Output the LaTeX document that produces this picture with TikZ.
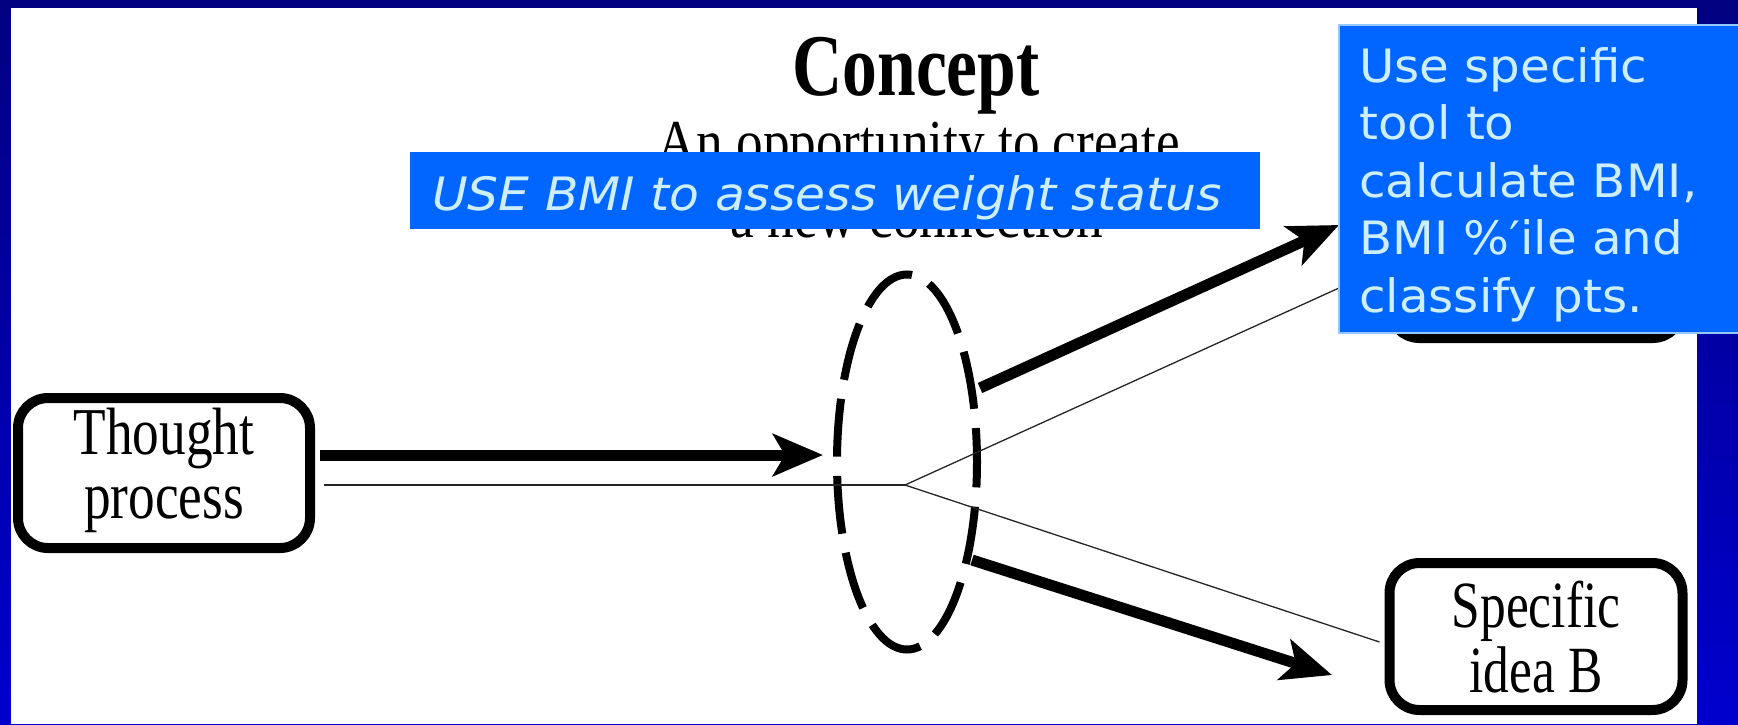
\documentclass[tikz,border=0pt]{standalone}
\usepackage{fontspec}
\setmainfont{Liberation Serif}
\newfontfamily\boxsans{DejaVu Sans}
\usetikzlibrary{arrows.meta,shapes.geometric,calc}
\definecolor{navytop}{RGB}{0,0,128}
\definecolor{navybot}{RGB}{0,0,206}
\definecolor{boxblue}{RGB}{0,102,255}
\definecolor{boxtext}{RGB}{204,238,255}
\definecolor{boxedge}{RGB}{150,200,255}
\begin{document}
\begin{tikzpicture}[x=1pt,y=-1pt,
  ideabox/.style={draw=black, line width=10pt, rounded corners=30pt, fill=white, inner sep=0pt},
  thickarrow/.style={line width=11pt, -{Stealth[length=50pt,width=42pt,inset=12pt]}},
  thinline/.style={line width=1.3pt, draw=black!85},
  bluetext/.style={inner sep=0pt, text=boxtext},
  serifline/.style={anchor=base, inner sep=0pt, font=\fontsize{61}{73}\selectfont}
]
\useasboundingbox (0,0) rectangle (1738,724);
\shade[top color=navytop, bottom color=navybot] (0,0) rectangle (1738,724);
\fill[white] (11,8) rectangle (1697,724);

% boxes
\node[ideabox, minimum width=292pt, minimum height=150pt, font=\fontsize{65}{62}\selectfont] (thought) at (164,473)
  {\scalebox{0.82}[1.03]{\begin{tabular}{@{}c@{}}Thought\\process\end{tabular}}};
\node[ideabox, minimum width=293pt, minimum height=146pt] (ideaA) at (1536,265) {};
\node[ideabox, minimum width=293pt, minimum height=147pt, font=\fontsize{66}{63}\selectfont, text depth=0pt] (ideaB) at (1536,636.5)
  {\scalebox{0.78}[1]{\begin{tabular}[b]{@{}c@{}}Specific\\idea B\end{tabular}}};

% concept ellipse
\node[draw, ellipse, line width=8pt, minimum width=140pt, minimum height=375pt, inner sep=0pt,
      dash pattern=on 58pt off 19.3pt, dash phase=24pt] (conc) at (907,462) {};

% named points
\coordinate (hub) at (905,485);
\coordinate (tipmid) at (823,455);
\coordinate (upstart) at (980,388);
\coordinate (uptip) at (1339,225);
\coordinate (lowstart) at (972,560);
\coordinate (lowtip) at (1332,675);
\coordinate (toolpt) at (1339,288);

% thin connectors
\draw[thinline] ($(thought.east)+(9,12)$) -- (hub);
\draw[thinline] (hub) -- (toolpt);
\draw[thinline] (hub) -- ($(ideaB.west)+(-5,5.5)$);

% thick arrows
\draw[thickarrow] ($(thought.east)+(5,-18)$) -- (tipmid);
\draw[thickarrow] (upstart) -- (uptip);
\draw[thickarrow] (lowstart) -- (lowtip);

% title
\node[anchor=base, inner sep=0pt, font=\bfseries\fontsize{88}{100}\selectfont] (title) at (916,95) {\scalebox{0.79}[1]{Concept}};
\node[serifline] (sub1) at (919,162) {\scalebox{0.873}[1]{An opportunity to create}};
\node[serifline] (sub2) at (917,237) {\scalebox{0.873}[1]{a new connection}};

% blue overlay boxes
\fill[boxblue] (410,152) rectangle (1260,229);
\node[bluetext, anchor=base west, font=\boxsans\itshape\fontsize{46}{55}\selectfont] (usebmi) at (432,210)
  {\scalebox{1.06}[1]{USE BMI to assess weight status}};
\filldraw[fill=boxblue, draw=boxedge, line width=2pt] (1339,25) rectangle (1742,333);
\node[bluetext, anchor=base west, font=\boxsans\fontsize{46}{57.5}\selectfont] (tool) at (1359,82)
  {\scalebox{1.05}[1]{\begin{tabular}[t]{@{}l@{}}Use specific\\tool to\\calculate BMI,\\BMI \%′ile and\\classify pts.\end{tabular}}};
\end{tikzpicture}
\end{document}
